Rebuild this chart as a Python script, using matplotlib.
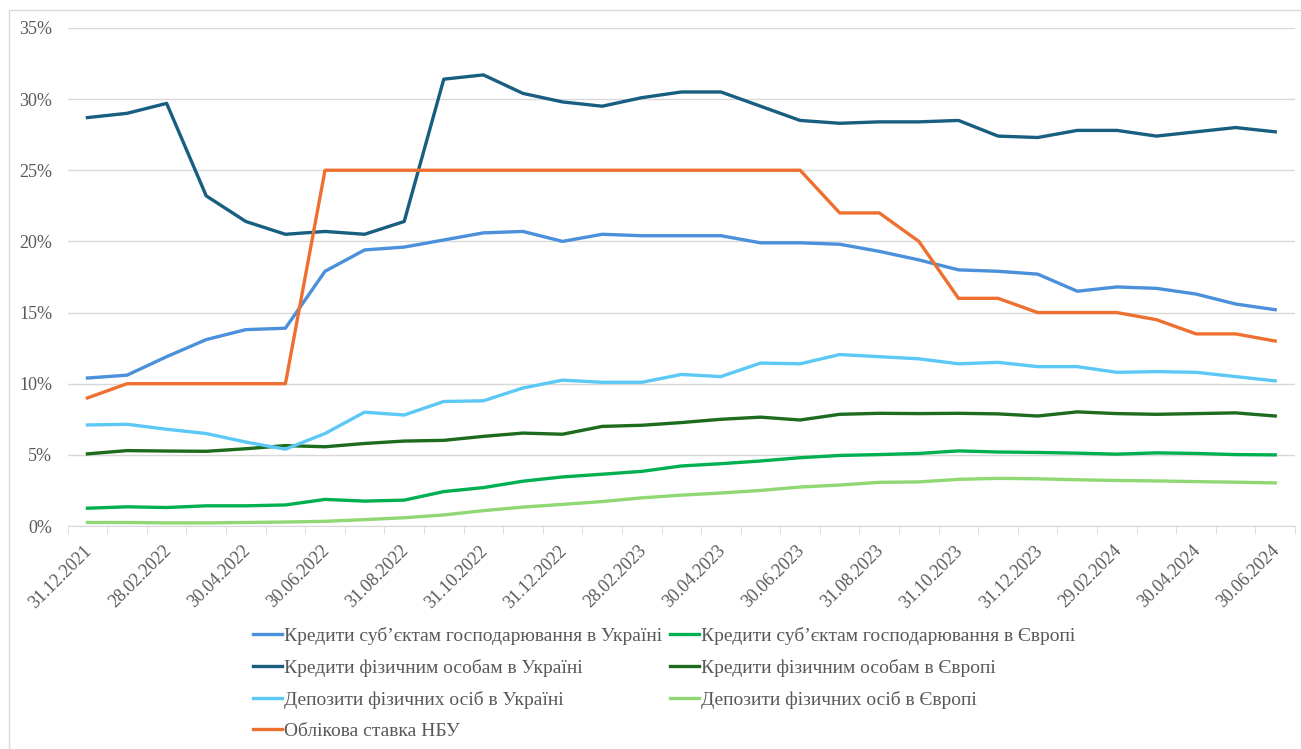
import matplotlib.pyplot as plt
import matplotlib.transforms as mtransforms
import numpy as np
from matplotlib.patches import Rectangle
from matplotlib.ticker import FixedLocator, FuncFormatter

plt.rcParams["font.family"] = ["Liberation Serif", "DejaVu Serif"]

# monthly dates, 31.12.2021 .. 30.06.2024
dates = [
    "31.12.2021", "31.01.2022", "28.02.2022", "31.03.2022", "30.04.2022",
    "31.05.2022", "30.06.2022", "31.07.2022", "31.08.2022", "30.09.2022",
    "31.10.2022", "30.11.2022", "31.12.2022", "31.01.2023", "28.02.2023",
    "31.03.2023", "30.04.2023", "31.05.2023", "30.06.2023", "31.07.2023",
    "31.08.2023", "30.09.2023", "31.10.2023", "30.11.2023", "31.12.2023",
    "31.01.2024", "29.02.2024", "31.03.2024", "30.04.2024", "31.05.2024",
    "30.06.2024",
]

ua_business = [10.4, 10.6, 11.9, 13.1, 13.8, 13.9, 17.9, 19.4, 19.6, 20.1,
               20.6, 20.7, 20.0, 20.5, 20.4, 20.4, 20.4, 19.9, 19.9, 19.8,
               19.3, 18.7, 18.0, 17.9, 17.7, 16.5, 16.8, 16.7, 16.3, 15.6,
               15.2]
ua_individuals = [28.7, 29.0, 29.7, 23.2, 21.4, 20.5, 20.7, 20.5, 21.4, 31.4,
                  31.7, 30.4, 29.8, 29.5, 30.1, 30.5, 30.5, 29.5, 28.5, 28.3,
                  28.4, 28.4, 28.5, 27.4, 27.3, 27.8, 27.8, 27.4, 27.7, 28.0,
                  27.7]
ua_deposits = [7.1, 7.15, 6.8, 6.5, 5.9, 5.4, 6.5, 8.0, 7.8, 8.75,
               8.8, 9.7, 10.25, 10.1, 10.1, 10.65, 10.5, 11.45, 11.4, 12.05,
               11.9, 11.75, 11.4, 11.5, 11.2, 11.2, 10.8, 10.85, 10.8, 10.5,
               10.2]
nbu_rate = [9.0, 10.0, 10.0, 10.0, 10.0, 10.0, 25.0, 25.0, 25.0, 25.0,
            25.0, 25.0, 25.0, 25.0, 25.0, 25.0, 25.0, 25.0, 25.0, 22.0,
            22.0, 20.0, 16.0, 16.0, 15.0, 15.0, 15.0, 14.5, 13.5, 13.5,
            13.0]
eu_business = [1.25, 1.35, 1.3, 1.42, 1.42, 1.48, 1.87, 1.75, 1.82, 2.42,
               2.7, 3.15, 3.45, 3.64, 3.84, 4.22, 4.38, 4.57, 4.8, 4.96,
               5.02, 5.1, 5.28, 5.2, 5.17, 5.12, 5.05, 5.14, 5.1, 5.02,
               5.0]
eu_individuals = [5.07, 5.3, 5.27, 5.25, 5.43, 5.65, 5.57, 5.8, 5.97, 6.02,
                  6.3, 6.53, 6.45, 7.0, 7.08, 7.27, 7.5, 7.65, 7.45, 7.85,
                  7.92, 7.9, 7.92, 7.88, 7.73, 8.02, 7.9, 7.85, 7.9, 7.95,
                  7.73]
eu_deposits = [0.25, 0.25, 0.22, 0.22, 0.25, 0.28, 0.33, 0.45, 0.58, 0.78,
               1.08, 1.33, 1.52, 1.72, 1.98, 2.17, 2.32, 2.5, 2.74, 2.88,
               3.07, 3.1, 3.28, 3.35, 3.32, 3.25, 3.2, 3.17, 3.12, 3.08,
               3.03]

labels = [
    "Кредити суб’єктам господарювання в Україні",
    "Кредити фізичним особам в Україні",
    "Депозити фізичних осіб в Україні",
    "Облікова ставка НБУ",
    "Кредити суб’єктам господарювання в Європі",
    "Кредити фізичним особам в Європі",
    "Депозити фізичних осіб в Європі",
]
series = [ua_business, ua_individuals, ua_deposits, nbu_rate,
          eu_business, eu_individuals, eu_deposits]
colors = ["#4A90DA", "#175E80", "#5BC8F6", "#EE7030",
          "#00B050", "#1D6B1D", "#8FD873"]

text_color = "#595959"
grid_color = "#D9D9D9"

fig = plt.figure(figsize=(13.01, 7.49), dpi=100)
ax = fig.add_axes([0.052, 0.2977, 0.9434, 0.665])

x = np.arange(len(dates))
# EU series at the back, NBU rate on top
draw_order = [4, 5, 6, 2, 0, 1, 3]
handles = [None] * len(series)
for i in draw_order:
    (line,) = ax.plot(x, series[i], color=colors[i], lw=2.4,
                      solid_joinstyle="round", label=labels[i])
    handles[i] = line

ax.set_xlim(-0.5, len(dates) - 0.5)
ax.set_ylim(0, 35)
ax.set_yticks(np.arange(0, 36, 5))
ax.yaxis.set_major_formatter(FuncFormatter(lambda v, p: f"{v:.0f}%"))
ax.grid(axis="y", color=grid_color, lw=1)
ax.set_axisbelow(True)

ax.xaxis.set_major_locator(FixedLocator(x[::2]))
ax.set_xticklabels(dates[::2])
ax.xaxis.set_minor_locator(FixedLocator(np.arange(-0.5, len(dates), 1)))
ax.tick_params(axis="x", which="major", length=0, pad=16,
               labelsize=13, labelcolor=text_color)
ax.tick_params(axis="x", which="minor", length=6, color=grid_color)
ax.tick_params(axis="y", length=0, pad=11, labelsize=13,
               labelcolor=text_color)
shift = mtransforms.ScaledTranslation(2 / 100, 0, fig.dpi_scale_trans)
for lbl in ax.get_xticklabels():
    lbl.set_rotation(45)
    lbl.set_ha("right")
    lbl.set_va("center")
    lbl.set_rotation_mode("anchor")
    lbl.set_transform(lbl.get_transform() + shift)

for side in ["top", "right", "left"]:
    ax.spines[side].set_visible(False)
ax.spines["bottom"].set_color(grid_color)

fig.legend(handles=handles, labels=labels, ncol=2, frameon=False,
           loc="upper left", bbox_to_anchor=(0.181, 0.186),
           fontsize=14, labelcolor=text_color, handlelength=1.5,
           handletextpad=0.1, columnspacing=0.4, labelspacing=0.71)

# light frame around the chart area
fig.patches.append(Rectangle((9 / 1301, -0.1), 1.2, 1 - 10 / 749 + 0.1,
                             transform=fig.transFigure, fill=False,
                             edgecolor=grid_color, lw=1))

fig.savefig("out.png", dpi=100)
